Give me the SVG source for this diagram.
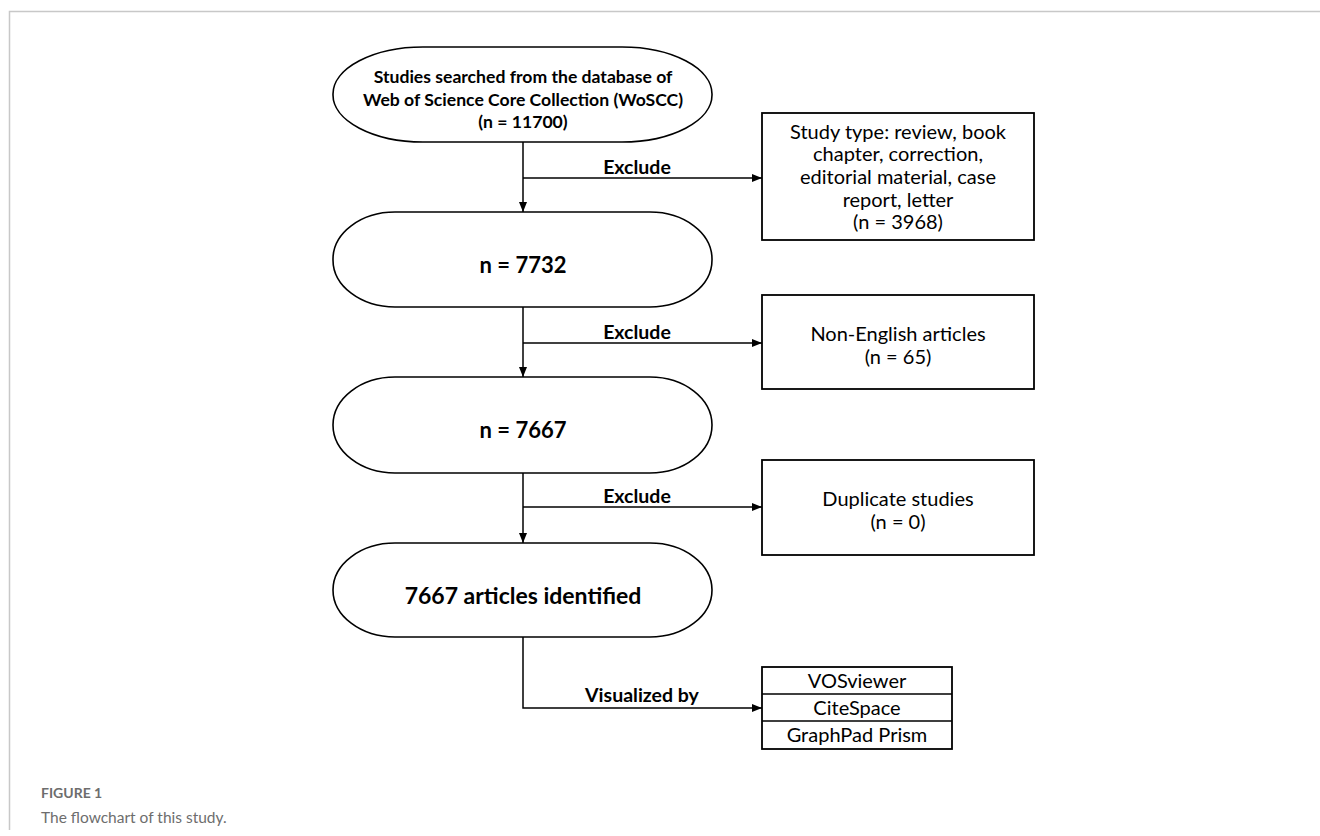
<svg xmlns="http://www.w3.org/2000/svg" width="1320" height="836" viewBox="0 0 1320 836">
<defs>
<marker id="ah" viewBox="0 0 10 10" refX="10" refY="5" markerWidth="10" markerHeight="10" markerUnits="userSpaceOnUse" orient="auto">
<path d="M0,1 L10,5 L0,9 Z" fill="#000"/>
</marker>
</defs>
<style>
.shape{fill:#fff;stroke:#000;stroke-width:1.6}
.box{fill:#fff;stroke:#000;stroke-width:1.8}
.conn{fill:none;stroke:#000;stroke-width:1.5}
.b{font-family:Lato,"Open Sans",sans-serif;font-weight:bold;fill:#000;text-anchor:middle}
.r{font-family:Lato,"Open Sans",sans-serif;fill:#000;text-anchor:middle;font-size:20px}
.frame{fill:none;stroke:#c8c8c8;stroke-width:1.5}
</style>
<rect width="1320" height="836" fill="#fff"/>
<path class="frame" d="M9.5,830 L9.5,11.5 L1320,11.5"/>

<g id="connectors">
<path class="conn" d="M523,142 L523,212" marker-end="url(#ah)"/>
<path class="conn" d="M523,178 L762,178" marker-end="url(#ah)"/>
<path class="conn" d="M523,307 L523,377" marker-end="url(#ah)"/>
<path class="conn" d="M523,343 L762,343" marker-end="url(#ah)"/>
<path class="conn" d="M523,473 L523,543" marker-end="url(#ah)"/>
<path class="conn" d="M523,507 L762,507" marker-end="url(#ah)"/>
<path class="conn" d="M523,637 L523,708 L762,708" marker-end="url(#ah)"/>
<text class="b" x="637" y="174" font-size="19.5">Exclude</text>
<text class="b" x="637" y="339" font-size="19.5">Exclude</text>
<text class="b" x="637" y="503" font-size="19.5">Exclude</text>
<text class="b" x="642" y="702" font-size="19.5">Visualized by</text>
</g>

<g id="node-search">
<rect class="shape" x="333" y="47" width="379" height="95" rx="90" ry="47"/>
<text class="b" font-size="17.6" x="523" y="83">Studies searched from the database of</text>
<text class="b" font-size="17.6" x="523" y="106">Web of Science Core Collection (WoSCC)</text>
<text class="b" font-size="17.6" x="523" y="128">(n = 11700)</text>
</g>

<g id="node-exclude-type">
<rect class="box" x="762" y="113" width="272" height="127"/>
<text class="r" x="898" y="139">Study type: review, book</text>
<text class="r" x="898" y="161">chapter, correction,</text>
<text class="r" x="898" y="184">editorial material, case</text>
<text class="r" x="898" y="207">report, letter</text>
<text class="r" x="898" y="229">(n = 3968)</text>
</g>

<g id="node-7732">
<rect class="shape" x="333" y="212" width="379" height="95" rx="62" ry="47"/>
<text class="b" font-size="22" x="523" y="273">n = 7732</text>
</g>

<g id="node-exclude-lang">
<rect class="box" x="762" y="295" width="272" height="94"/>
<text class="r" x="898" y="341">Non-English articles</text>
<text class="r" x="898" y="364">(n = 65)</text>
</g>

<g id="node-7667">
<rect class="shape" x="333" y="377" width="379" height="96" rx="62" ry="48"/>
<text class="b" font-size="22" x="523" y="438">n = 7667</text>
</g>

<g id="node-exclude-dup">
<rect class="box" x="762" y="460" width="272" height="95"/>
<text class="r" x="898" y="506">Duplicate studies</text>
<text class="r" x="898" y="529">(n = 0)</text>
</g>

<g id="node-identified">
<rect class="shape" x="333" y="543" width="379" height="94" rx="62" ry="47"/>
<text class="b" font-size="23" x="523" y="604">7667 articles identified</text>
</g>

<g id="node-tools">
<rect class="box" x="762" y="667" width="190" height="82"/>
<path class="conn" d="M762,694 L952,694 M762,721 L952,721"/>
<text class="r" x="857" y="688">VOSviewer</text>
<text class="r" x="857" y="715">CiteSpace</text>
<text class="r" x="857" y="742">GraphPad Prism</text>
</g>

<text x="41" y="798" font-family="Lato,'Open Sans',sans-serif" font-weight="bold" font-size="14" fill="#6d6d6d">FIGURE 1</text>
<text x="41" y="823" font-family="Lato,'Open Sans',sans-serif" font-size="15.5" fill="#6d6d6d">The flowchart of this study.</text>
</svg>
